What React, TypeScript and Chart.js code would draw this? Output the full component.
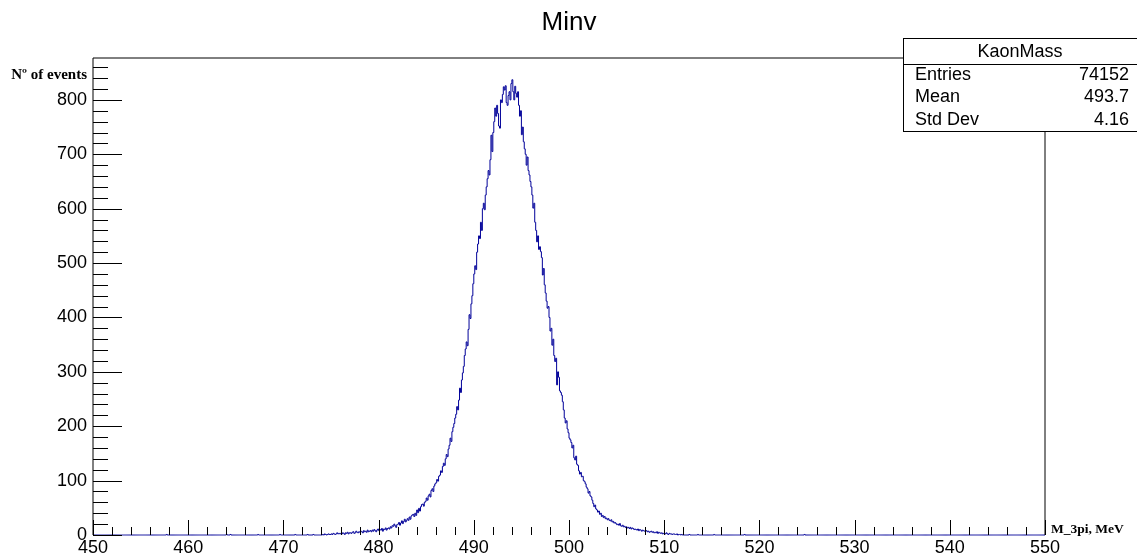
import React, { useEffect, useRef } from 'react';
import { Chart, registerables } from 'chart.js';

Chart.register(...registerables);

// ---------- data ----------
const TITLE = 'Minv';
const X_TITLE = 'M_3pi, MeV';
const Y_TITLE = 'Nº of events';

const HIST_LOW = 450;
const HIST_HIGH = 550;
const BIN_WIDTH = 0.1;
const Y_MAX = 877;

// counts of 0.1 MeV bins, first bin starts at CORE_LOW_EDGE (one row = 1 MeV)
const CORE_LOW_EDGE = 474.0;
const coreCounts = [
  0, 1, 0, 2, 1, 0, 1, 2, 1, 1, // 474
  2, 1, 3, 2, 1, 2, 4, 2, 3, 2, // 475
  3, 2, 4, 3, 1, 4, 3, 5, 2, 4, // 476
  4, 3, 5, 6, 3, 4, 7, 5, 4, 6, // 477
  5, 7, 6, 4, 8, 6, 7, 5, 9, 6, // 478
  7, 8, 6, 9, 7, 10, 8, 6, 9, 11, // 479
  8, 10, 9, 12, 7, 11, 10, 13, 9, 12, // 480
  13, 11, 15, 13, 17, 16, 20, 17, 14, 19, // 481
  20, 23, 18, 22, 26, 21, 25, 29, 24, 27, // 482
  30, 27, 33, 29, 35, 37, 38, 34, 40, 36, // 483
  46, 41, 49, 44, 52, 56, 57, 53, 60, 62, // 484
  68, 64, 72, 75, 70, 82, 85, 80, 90, 94, // 485
  96, 102, 99, 108, 110, 118, 115, 126, 132, 128, // 486
  140, 148, 144, 158, 165, 178, 172, 190, 198, 205, // 487
  215, 222, 236, 230, 248, 270, 262, 285, 298, 310, // 488
  330, 342, 355, 348, 378, 405, 398, 425, 440, 462, // 489
  480, 495, 488, 520, 535, 550, 545, 575, 560, 600, // 490
  610, 598, 625, 640, 655, 670, 662, 690, 735, 705, // 491
  740, 760, 785, 770, 790, 775, 752, 748, 800, 795, // 492
  810, 824, 818, 826, 795, 790, 808, 815, 800, 830, // 493
  837, 815, 800, 825, 812, 805, 815, 790, 770, 780, // 494
  736, 750, 723, 710, 700, 680, 695, 670, 662, 650, // 495
  640, 625, 601, 610, 575, 560, 539, 550, 525, 530, // 496
  521, 510, 478, 490, 460, 445, 430, 417, 420, 400, // 497
  375, 380, 349, 360, 330, 319, 325, 276, 300, 290, // 498
  265, 262, 257, 245, 230, 215, 206, 210, 195, 188, // 499
  178, 175, 170, 160, 165, 142, 138, 145, 130, 128, // 500
  118, 112, 115, 107, 108, 100, 98, 94, 88, 85, // 501
  77, 80, 72, 70, 64, 58, 52, 55, 48, 46, // 502
  42, 44, 38, 40, 34, 36, 32, 34, 30, 31, // 503
  28, 30, 27, 26, 28, 24, 25, 22, 23, 21, // 504
  19, 20, 18, 21, 17, 16, 18, 15, 16, 14, // 505
  15, 13, 14, 12, 14, 11, 13, 12, 10, 11, // 506
  10, 9, 11, 8, 10, 9, 7, 9, 8, 7, // 507
  7, 8, 6, 7, 5, 6, 7, 5, 6, 4, // 508
  5, 4, 6, 3, 5, 4, 3, 4, 2, 3, // 509
  3, 2, 4, 2, 1, 3, 2, 2, 1, 2, // 510
  2, 1, 1, 2, 0, 1, 1, 0, 1, 0, // 511
];

// isolated single entries far in the tails (MeV)
const sparseEntries = [457.7, 464.0, 464.4, 467.3, 469.6, 471.2, 472.5, 473.1, 512.6, 513.5, 515.2, 518.4, 524.7];

const X_MAJOR_STEP = 10;
const X_MINOR_STEP = 2;
const Y_MAJOR_STEP = 100;
const Y_MINOR_STEP = 20;

const statsTitle = 'KaonMass';
const statsNames = ['Entries', 'Mean', 'Std Dev'];
const statsValues = ['74152', '493.7', '4.16'];

// ---------- build histogram points ----------
const nBins = Math.round((HIST_HIGH - HIST_LOW) / BIN_WIDTH);
const counts: number[] = new Array(nBins).fill(0);
const coreStart = Math.round((CORE_LOW_EDGE - HIST_LOW) / BIN_WIDTH);
coreCounts.forEach((c, i) => {
  counts[coreStart + i] = c;
});
sparseEntries.forEach((v) => {
  const idx = Math.floor((v - HIST_LOW) / BIN_WIDTH + 1e-6);
  if (idx >= 0 && idx < nBins) counts[idx] += 1;
});
const points = counts.map((c, i) => ({ x: HIST_LOW + i * BIN_WIDTH, y: c }));
points.push({ x: HIST_HIGH, y: counts[nBins - 1] });

const SANS = '"Liberation Sans", Arial, Helvetica, sans-serif';
const SERIF = '"Liberation Serif", "Times New Roman", serif';

const rootPlugin = {
  id: 'rootDecor',
  afterDraw(chart: any) {
    const { ctx, chartArea: a, scales } = chart;
    const xs = scales.x;
    const ys = scales.y;
    ctx.save();
    ctx.strokeStyle = '#000';
    ctx.lineWidth = 1;

    // frame (left axis, top, right)
    ctx.beginPath();
    ctx.moveTo(a.left, a.bottom);
    ctx.lineTo(a.left, a.top);
    ctx.lineTo(a.right, a.top);
    ctx.lineTo(a.right, a.bottom);
    ctx.stroke();

    // y ticks (inward)
    ctx.beginPath();
    for (let v = 0; v <= Y_MAX; v += Y_MINOR_STEP) {
      const py = Math.round(ys.getPixelForValue(v)) + 0.5;
      const len = v % Y_MAJOR_STEP === 0 ? 29 : 15;
      ctx.moveTo(a.left, py);
      ctx.lineTo(a.left + len, py);
    }
    // x ticks (inward)
    for (let v = HIST_LOW; v <= HIST_HIGH; v += X_MINOR_STEP) {
      const px = Math.round(xs.getPixelForValue(v)) + 0.5;
      const len = (v - HIST_LOW) % X_MAJOR_STEP === 0 ? 15 : 8;
      ctx.moveTo(px, a.bottom);
      ctx.lineTo(px, a.bottom - len);
    }
    ctx.stroke();

    // title
    ctx.fillStyle = '#000';
    ctx.textBaseline = 'alphabetic';
    ctx.textAlign = 'center';
    ctx.font = `26px ${SANS}`;
    ctx.fillText(TITLE, (a.left + a.right) / 2, 30);

    // axis titles
    ctx.textAlign = 'right';
    ctx.font = `bold 15px ${SERIF}`;
    ctx.fillText(Y_TITLE, a.left - 6, 79);
    ctx.textAlign = 'left';
    ctx.font = `bold 13.5px ${SERIF}`;
    ctx.fillText(X_TITLE, a.right + 6, 532.5);

    // stats box
    const bx = 903.5;
    const by = 38.5;
    const bw = 240;
    const bh = 93;
    ctx.fillStyle = '#fff';
    ctx.fillRect(bx, by, bw, bh);
    ctx.strokeRect(bx, by, bw, bh);
    ctx.beginPath();
    ctx.moveTo(bx, 64.5);
    ctx.lineTo(bx + bw, 64.5);
    ctx.stroke();

    ctx.fillStyle = '#000';
    ctx.font = `18px ${SANS}`;
    ctx.textAlign = 'center';
    ctx.fillText(statsTitle, 1020, 57);
    const baselines = [79.5, 102, 125];
    statsNames.forEach((n, i) => {
      ctx.textAlign = 'left';
      ctx.fillText(n, 915, baselines[i]);
      ctx.textAlign = 'right';
      ctx.fillText(statsValues[i], 1129, baselines[i]);
    });
    ctx.restore();
  },
};

export default function App() {
  const canvasRef = useRef<HTMLCanvasElement | null>(null);

  useEffect(() => {
    if (!canvasRef.current) return;
    const chart = new Chart(canvasRef.current, {
      type: 'line',
      data: {
        datasets: [
          {
            data: points,
            borderColor: '#000099',
            borderWidth: 1,
            pointRadius: 0,
            stepped: true,
            fill: false,
            clip: 5,
          } as any,
        ],
      },
      options: {
        responsive: false,
        animation: false,
        events: [],
        layout: { padding: { left: 0, right: 92, top: 58, bottom: 0 } },
        plugins: {
          legend: { display: false },
          tooltip: { enabled: false },
          title: { display: false },
        },
        scales: {
          x: {
            type: 'linear',
            min: HIST_LOW,
            max: HIST_HIGH,
            afterFit: (s: any) => {
              s.height = 22;
            },
            grid: { display: false, drawTicks: false },
            border: { display: false },
            ticks: {
              stepSize: X_MAJOR_STEP,
              autoSkip: false,
              maxRotation: 0,
              padding: 2,
              color: '#000',
              font: { family: SANS, size: 18 },
            },
          },
          y: {
            type: 'linear',
            min: 0,
            max: Y_MAX,
            afterFit: (s: any) => {
              s.width = 93;
            },
            afterBuildTicks: (s: any) => {
              s.ticks = s.ticks.filter((t: any) => t.value % Y_MAJOR_STEP === 0);
            },
            grid: { display: false, drawTicks: false },
            border: { display: false },
            ticks: {
              stepSize: Y_MAJOR_STEP,
              padding: 6,
              color: '#000',
              font: { family: SANS, size: 18 },
            },
          },
        },
      } as any,
      plugins: [rootPlugin],
    });
    return () => chart.destroy();
  }, []);

  return (
    <div style={{ position: 'absolute', left: 0, top: 0, width: 1137, height: 557, background: '#fff' }}>
      <canvas ref={canvasRef} width={1137} height={557} style={{ display: 'block' }} />
    </div>
  );
}
